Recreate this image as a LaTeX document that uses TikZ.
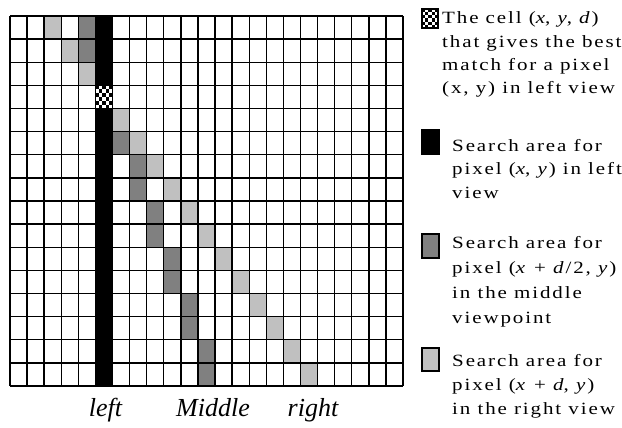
\documentclass[tikz,border=0pt]{standalone}
\usepackage{fontspec}
\setmainfont{Liberation Serif}
\newfontfamily\lgdfont[LetterSpace=11, FakeStretch=1.22]{Liberation Serif}
\definecolor{darkc}{HTML}{808080}
\definecolor{lightc}{HTML}{C0C0C0}
\newcommand\mychecker[4]{%
  \fill[white] (#1,#2) rectangle ++(#3,#4);
  \foreach \i in {0,...,4}{\foreach \j in {0,...,5}{%
    \pgfmathtruncatemacro\mypar{mod(\i+\j,2)}%
    \ifnum\mypar=0 \fill[black] (#1+\i*#3/5,#2+\j*#4/6) rectangle ++(#3/5,#4/6);\fi}}%
}
\begin{document}
\begin{tikzpicture}[x=1pt,y=-1pt,
  lg/.style={anchor=base west, inner sep=0pt, font=\lgdfont\fontsize{17.2}{19}\selectfont},
  lbl/.style={anchor=base, inner sep=0pt, font=\fontsize{26}{30}\selectfont\itshape},
  gl/.style={line width=1.4pt, black},
  icon/.style={line width=1.3pt, draw=black}]
\useasboundingbox (0,0) rectangle (622,428);
\fill[white] (0,0) rectangle (622,428);
\def\cw{17.087}
\def\ch{23.125}
% dark gray cells (middle view)
\foreach \r/\c in {0/4,1/4,5/6,6/7,7/7,8/8,9/8,10/9,11/9,12/10,13/10,14/11,15/11}
  \fill[darkc] (10+\c*\cw,16+\r*\ch) rectangle ++(\cw,\ch);
% light gray cells (right view)
\foreach \r/\c in {0/2,1/3,2/4,4/6,5/7,6/8,7/9,8/10,9/11,10/12,11/13,12/14,13/15,14/16,15/17}
  \fill[lightc] (10+\c*\cw,16+\r*\ch) rectangle ++(\cw,\ch);
% black column (left view)
\fill[black] (10+5*\cw,16) rectangle ++(\cw,370);
% best match cell
\mychecker{10+5*\cw}{16+3*\ch}{\cw}{\ch}
% grid
\foreach \i in {0,...,23} \draw[gl] (10+\i*\cw,16) -- (10+\i*\cw,386);
\foreach \j in {0,...,16} \draw[gl] (10,16+\j*\ch) -- (403,16+\j*\ch);
% bottom labels
\node[lbl] (lleft) at (105.5,416) {left};
\node[lbl] (lmid) at (213,416) {Middle};
\node[lbl] (lright) at (313,416) {right};
% legend icons
\mychecker{422}{9}{16}{19}
\draw[icon] (422,9) rectangle (438,28);
\filldraw[icon, fill=black] (422,130) rectangle (439,154);
\filldraw[icon, fill=darkc] (422,234) rectangle (439,258);
\filldraw[icon, fill=lightc] (422,348) rectangle (439,371);
% legend texts
\node[lg] (a1) at (442,24) {The cell (\textit{x}, \textit{y}, \textit{d})};
\node[lg] (a2) at (442,47.5) {that gives the best};
\node[lg] (a3) at (442,71) {match for a pixel};
\node[lg] (a4) at (442,94) {(x, y) in left view};
\node[lg] (b1) at (452,151) {Search area for};
\node[lg] (b2) at (452,175) {pixel (\textit{x}, \textit{y}) in left};
\node[lg] (b3) at (452,198) {view};
\node[lg] (c1) at (452,248) {Search area for};
\node[lg] (c2) at (452,273) {pixel (\textit{x} + \textit{d}/2, \textit{y})};
\node[lg] (c3) at (452,298) {in the middle};
\node[lg] (c4) at (452,323) {viewpoint};
\node[lg] (d1) at (452,366) {Search area for};
\node[lg] (d2) at (452,390) {pixel (\textit{x} + \textit{d}, \textit{y})};
\node[lg] (d3) at (452,414) {in the right view};
\end{tikzpicture}
\end{document}
